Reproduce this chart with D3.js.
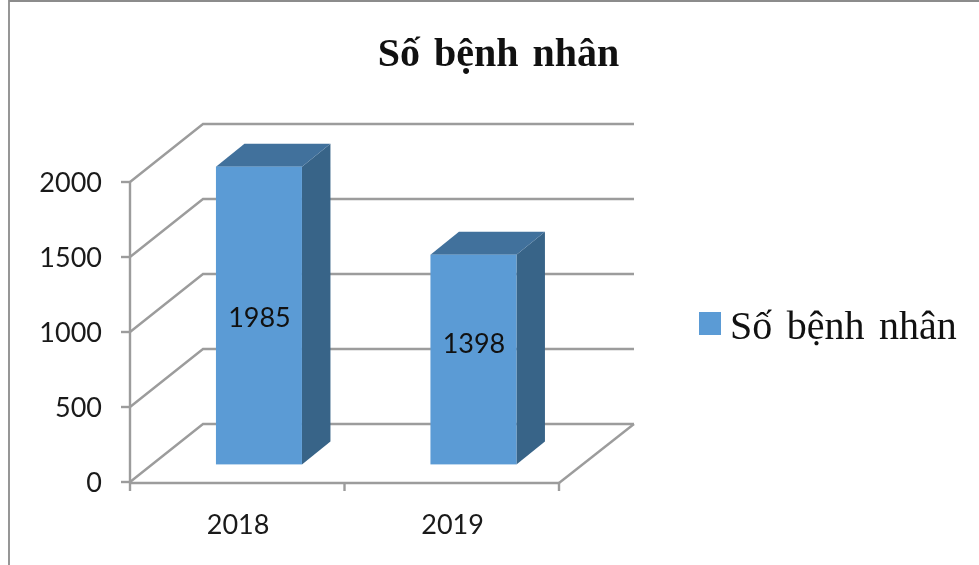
<!DOCTYPE html>
<html><head><meta charset="utf-8">
<script src="https://cdn.jsdelivr.net/npm/d3@7"></script>
<style>html,body{margin:0;padding:0;background:#fff}svg{display:block;filter:blur(.5px)}</style>
</head><body><svg id="c" width="979" height="565"></svg>
<script>
const categories = ["2018", "2019"];
const seriesValues = [1985, 1398];
const yTicks = [0, 500, 1000, 1500, 2000];
const seriesName = "Số bệnh nhân";
const chartTitle = "Số bệnh nhân";

const svg = d3.select("#c");
const grid = "#9c9c9c", front = "#5b9bd5", top_ = "#41719c", side = "#386488";
const y = d3.scaleLinear().domain([0, 2000]).range([482, 182]);
const x = d3.scaleBand().domain(categories).range([130, 559]);
const wall = {dx: 73, dy: -58};
const barDepth = {dx: 28.5, dy: -23};
const barOff = {dx: 21.7, dy: -17.6};
const barW = 86;
const serif = "'Liberation Serif','Times New Roman',serif";
const sans = "Lato,'Open Sans',sans-serif";
const poly = p => p.map(q => q.join(",")).join(" ");

svg.append("path").attr("d", "M9,565V1H979").attr("fill", "none").attr("stroke", "#8c8c8c").attr("stroke-width", 1.8);

const xR = x.range();
const gl = svg.append("g").attr("fill", "none").attr("stroke", grid).attr("stroke-width", 2.4);
yTicks.forEach(t => {
  gl.append("polyline").attr("points", poly([[xR[0], y(t)], [xR[0] + wall.dx, y(t) + wall.dy], [634, y(t) + wall.dy]]));
  gl.append("line").attr("x1", xR[0] - 9).attr("x2", xR[0]).attr("y1", y(t)).attr("y2", y(t));
});
gl.append("line").attr("x1", xR[0]).attr("x2", xR[0]).attr("y1", y(2000)).attr("y2", y(0));
gl.append("line").attr("x1", xR[0]).attr("x2", xR[1]).attr("y1", y(0) + 1).attr("y2", y(0) + 1);
gl.append("line").attr("x1", xR[1]).attr("x2", 634).attr("y1", y(0) + 1).attr("y2", y(0) + wall.dy);
[xR[0], xR[0] + x.bandwidth(), xR[1]].forEach(v =>
  gl.append("line").attr("x1", v).attr("x2", v).attr("y1", y(0) + 1).attr("y2", y(0) + 9));

svg.append("g").selectAll("text").data(yTicks).join("text")
  .attr("x", 102).attr("y", d => y(d)).attr("dy", "0.36em").attr("text-anchor", "end")
  .attr("font-family", sans).attr("font-size", 27).attr("fill", "#1a1a1a").text(d => d);

svg.append("g").selectAll("text").data(categories).join("text")
  .attr("x", d => x(d) + x.bandwidth() / 2 + 0.8).attr("y", 524).attr("dy", "0.36em").attr("text-anchor", "middle")
  .attr("font-family", sans).attr("font-size", 27).attr("fill", "#1a1a1a").text(d => d);

const bars = svg.append("g").selectAll("g").data(categories).join("g");
const bx = d => x(d) + (x.bandwidth() - barW) / 2 + barOff.dx;
const by = v => y(v) + barOff.dy;
bars.each(function (d, i) {
  const g = d3.select(this), L = bx(d), R = L + barW, T = by(seriesValues[i]), B = by(0);
  g.append("polygon").attr("fill", side).attr("points", poly([[R, T], [R + barDepth.dx, T + barDepth.dy], [R + barDepth.dx, B + barDepth.dy], [R, B]]));
  g.append("polygon").attr("fill", top_).attr("points", poly([[L, T], [L + barDepth.dx, T + barDepth.dy], [R + barDepth.dx, T + barDepth.dy], [R, T]]));
  g.append("rect").attr("fill", front).attr("x", L).attr("y", T).attr("width", barW).attr("height", B - T);
  g.append("text").attr("x", L + barW / 2 + 0.5).attr("y", i === 0 ? 317 : 343).attr("dy", "0.36em").attr("text-anchor", "middle")
    .attr("font-family", sans).attr("font-size", 27).attr("fill", "#111").text(seriesValues[i]);
});

svg.append("text").attr("x", 498.5).attr("y", 66).attr("text-anchor", "middle")
  .attr("font-family", serif).attr("font-weight", "bold").attr("font-size", 40).attr("word-spacing", 4).attr("fill", "#111").text(chartTitle);

svg.append("rect").attr("x", 699).attr("y", 312).attr("width", 22).attr("height", 23).attr("fill", front);
svg.append("text").attr("x", 730).attr("y", 339)
  .attr("font-family", serif).attr("font-size", 40).attr("word-spacing", 4.5).attr("fill", "#111").text(seriesName);
</script></body></html>
